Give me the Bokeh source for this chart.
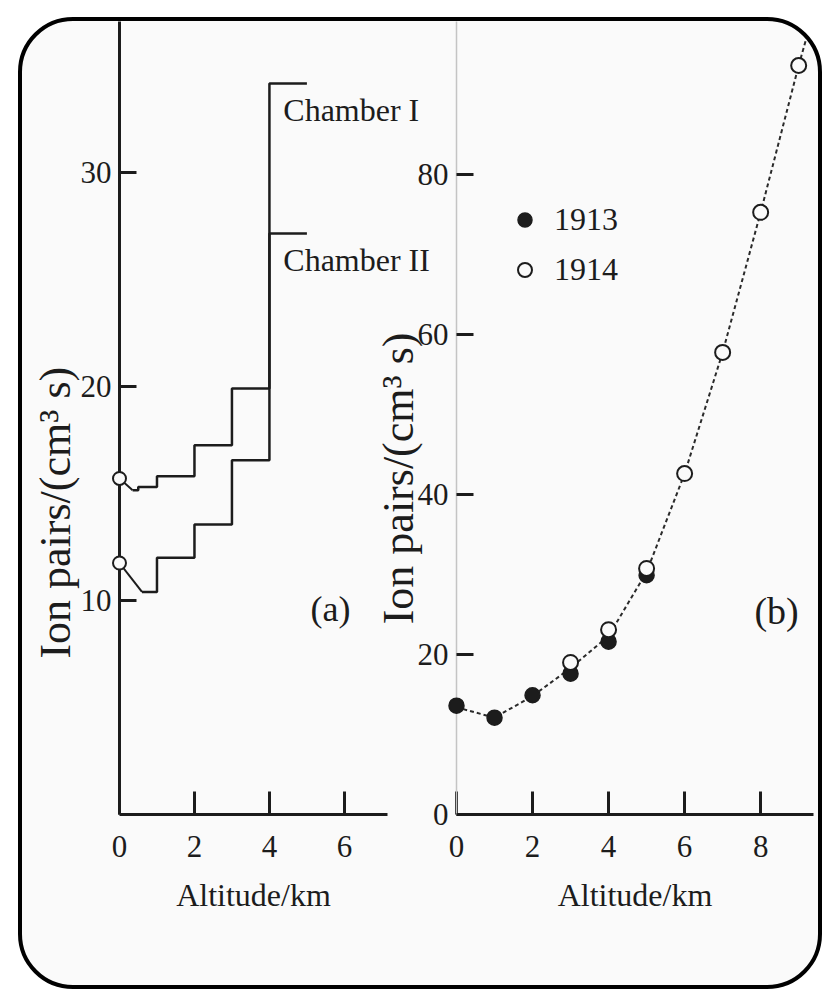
from math import pi
from bokeh.plotting import figure
from bokeh.models import Legend, LegendItem, FixedTicker, Range1d
from bokeh.core.properties import value
from bokeh.layouts import row
from bokeh.embed import file_html
from bokeh.resources import INLINE

# ---------------- data: panel (a) Hess 1912, two ionisation chambers ----------------
ch1_ground = 15.7          # value measured at ground (open circle)
ch2_ground = 11.75
ch1_edges = [0.35, 0.5, 1, 2, 3, 4, 5]          # altitude bin edges, km
ch1_rate = [15.15, 15.3, 15.8, 17.25, 19.9, 34.15]
ch2_edges = [0.6, 1, 2, 3, 4, 5]
ch2_rate = [10.4, 12.0, 13.55, 16.55, 27.15]
a_xticks = [0, 2, 4, 6]
a_yticks = [10, 20, 30]

# ---------------- data: panel (b) Kolhorster 1913 / 1914 ----------------
alt_1913 = [0, 1, 2, 3, 4, 5]
rate_1913 = [13.6, 12.1, 14.9, 17.6, 21.6, 29.9]
alt_1914 = [3, 4, 5, 6, 7, 8, 9]
rate_1914 = [19.0, 23.1, 30.75, 42.6, 57.75, 75.25, 93.6]
curve_alt = [0, 1, 2, 3, 4, 5, 6, 7, 8, 9, 9.35]
curve_rate = [13.4, 12.1, 14.8, 18.3, 22.3, 30.3, 42.6, 57.75, 75.25, 93.6, 99.5]
b_xticks = [0, 2, 4, 6, 8]
b_yticks = [0, 20, 40, 60, 80]

FONT = "Liberation Serif"
INK = "#1c1c1c"
TICK_FS = "31px"


def style(p, xticks, yticks):
    p.grid.visible = False
    p.outline_line_color = None
    p.background_fill_alpha = 0
    p.border_fill_alpha = 0
    p.xaxis.ticker = FixedTicker(ticks=xticks)
    p.yaxis.ticker = FixedTicker(ticks=yticks)
    for ax in (p.xaxis[0], p.yaxis[0]):
        ax.major_tick_out = 0
        ax.minor_tick_in = 0
        ax.minor_tick_out = 0
        ax.major_tick_line_width = 3
        ax.major_tick_line_color = INK
        ax.major_label_text_font = FONT
        ax.major_label_text_font_size = TICK_FS
        ax.major_label_text_color = INK
        ax.axis_line_color = INK
        ax.axis_line_width = 3
    p.xaxis.major_tick_in = 23
    p.yaxis.major_tick_in = 17
    p.xaxis.major_label_standoff = 21
    p.yaxis.major_label_standoff = 8
    p.xaxis.axis_label = "Altitude/km"
    p.xaxis.axis_label_text_font = FONT
    p.xaxis.axis_label_text_font_size = "32px"
    p.xaxis.axis_label_text_font_style = "normal"
    p.xaxis.axis_label_text_color = INK
    p.xaxis.axis_label_standoff = 17


def add_text(p, x, y, txt, size, align="left", angle=0.0):
    p.text(x=[x], y=[y], text=[txt], angle=angle, text_font=value(FONT),
           text_font_size=value(size), text_color=INK, text_align=align,
           text_baseline="middle", level="overlay")


# ---------------- panel (a) ----------------
p1 = figure(width=410, height=964, x_range=Range1d(0, 7.15), y_range=Range1d(0, 37.05),
            output_backend="svg", toolbar_location=None,
            min_border_left=97, min_border_right=45, min_border_top=0, min_border_bottom=170)
style(p1, a_xticks, a_yticks)

p1.step(ch1_edges, ch1_rate + [ch1_rate[-1]], mode="after", line_color=INK, line_width=2.5)
p1.step(ch2_edges, ch2_rate + [ch2_rate[-1]], mode="after", line_color=INK, line_width=2.5)
p1.line([0, ch1_edges[0]], [ch1_ground, ch1_rate[0]], line_color=INK, line_width=2)
p1.line([0, ch2_edges[0]], [ch2_ground, ch2_rate[0]], line_color=INK, line_width=2)
p1.scatter([0, 0], [ch1_ground, ch2_ground], size=13, marker="circle", fill_color="#fafafa",
           line_color=INK, line_width=2, level="overlay")

add_text(p1, 4.37, 32.9, "Chamber I", "32px")
add_text(p1, 4.37, 25.9, "Chamber II", "32px")
add_text(p1, 5.63, 9.6, "(a)", "36px", align="center")
add_text(p1, -1.71, 14.1, "Ion pairs/(cm³ s)", "44px", align="center", angle=pi / 2)

# ---------------- panel (b) ----------------
p2 = figure(width=448, height=964, x_range=Range1d(0, 9.39), y_range=Range1d(0, 99.1),
            output_backend="svg", toolbar_location=None,
            min_border_left=86, min_border_right=5, min_border_top=0, min_border_bottom=171)
style(p2, b_xticks, b_yticks)
p2.yaxis.axis_line_color = "#c4c4c4"
p2.yaxis.axis_line_width = 1.5
p2.margin = (0, 0, 0, -62)

p2.line(curve_alt, curve_rate, line_color="#2a2a2a", line_width=2, line_dash="4 3")
r13 = p2.scatter(alt_1913, rate_1913, size=15, marker="circle", fill_color=INK,
                 line_color=INK, line_width=1.5, level="overlay")
r14 = p2.scatter(alt_1914, rate_1914, size=15, marker="circle", fill_color="#fafafa",
                 line_color=INK, line_width=2, level="overlay")

legend = Legend(items=[LegendItem(label="1913", renderers=[r13]),
                       LegendItem(label="1914", renderers=[r14])],
                location=(51, 526), orientation="vertical",
                border_line_color=None, background_fill_alpha=0,
                glyph_width=35, glyph_height=35, label_height=35, label_width=60,
                spacing=13, padding=0, margin=0, label_standoff=12,
                label_text_font=FONT, label_text_font_size="32px", label_text_color=INK)
p2.add_layout(legend)

add_text(p2, 8.42, 25.4, "(b)", "38px", align="center")
add_text(p2, -1.53, 42.0, "Ion pairs/(cm³ s)", "44px", align="center", angle=pi / 2)

layout = row(p1, p2, margin=(17, 0, 0, 18),
             styles={"border": "4px solid black", "border-radius": "55px",
                     "background-color": "#fafafa", "overflow": "hidden"})

open("out.html", "w").write(file_html(layout, INLINE))
